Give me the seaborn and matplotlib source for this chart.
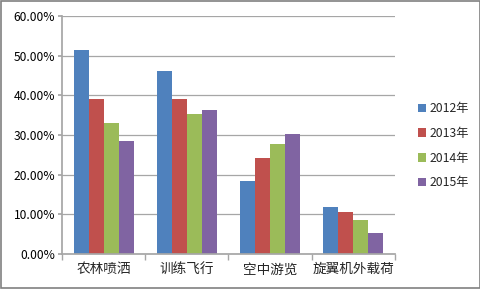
import matplotlib
matplotlib.use("Agg")
import matplotlib.pyplot as plt
import seaborn as sns
import pandas as pd
import numpy as np
from matplotlib.ticker import FuncFormatter, FixedLocator

categories = ["农林喷洒", "训练飞行", "空中游览", "旋翼机外载荷"]
years = ["2012年", "2013年", "2014年", "2015年"]
v2012 = [51.4, 46.1, 18.4, 11.8]
v2013 = [39.1, 39.1, 24.3, 10.6]
v2014 = [32.9, 35.3, 27.7, 8.5]
v2015 = [28.6, 36.2, 30.3, 5.4]
colors = ["#4F81BD", "#C0504D", "#9BBB59", "#8064A2"]

rows = []
for y, vals in zip(years, [v2012, v2013, v2014, v2015]):
    for c, v in zip(categories, vals):
        rows.append({"category": c, "year": y, "value": v / 100})
df = pd.DataFrame(rows)

sns.set_theme(style="white")
plt.rcParams['font.family'] = ['Noto Sans CJK SC', 'DejaVu Sans']

fig = plt.figure(figsize=(4.81, 2.89), dpi=100)
ax = fig.add_axes([62/481, 1-254/289, (395-62)/481, (254-16)/289])
sns.barplot(data=df, x="category", y="value", hue="year", palette=colors,
            width=0.72, gap=0, ax=ax, saturation=1, errorbar=None)
for p in ax.patches:
    p.set_edgecolor("none")

ax.set_ylim(0, 0.6)
ax.set_xlim(-0.5, 3.5)
ax.set_yticks(np.arange(0, 0.61, 0.1))
ax.yaxis.set_major_formatter(FuncFormatter(lambda v, p: f"{v*100:.2f}%"))
ax.grid(axis="y", color="#A6A6A6", linewidth=0.9)
ax.set_axisbelow(True)
for s in ["top", "right"]:
    ax.spines[s].set_visible(False)
ax.spines["left"].set_color("#A6A6A6")
ax.spines["bottom"].set_color("#A6A6A6")
ax.set_xlabel("")
ax.set_ylabel("")
ax.tick_params(axis="y", labelsize=8.7, colors="#A6A6A6", labelcolor="black", length=3, direction="out", left=True, pad=2)
ax.tick_params(axis="x", labelsize=9.8, length=0, pad=6)
ax.xaxis.set_minor_locator(FixedLocator([-0.5, 0.5, 1.5, 2.5, 3.5]))
ax.tick_params(axis="x", which="minor", length=4, color="#A6A6A6", bottom=True)

leg = ax.legend(loc="center left", bbox_to_anchor=(1.035, 0.455), frameon=False,
                fontsize=8.8, handlelength=0.7, handleheight=0.7, handletextpad=0.3,
                labelspacing=0.95)

fig.patches.append(plt.Rectangle((0.002, 0.003), 0.995, 0.993, transform=fig.transFigure,
                                 fill=False, edgecolor="#808080", linewidth=1.2))
fig.savefig("out.png", dpi=100)
